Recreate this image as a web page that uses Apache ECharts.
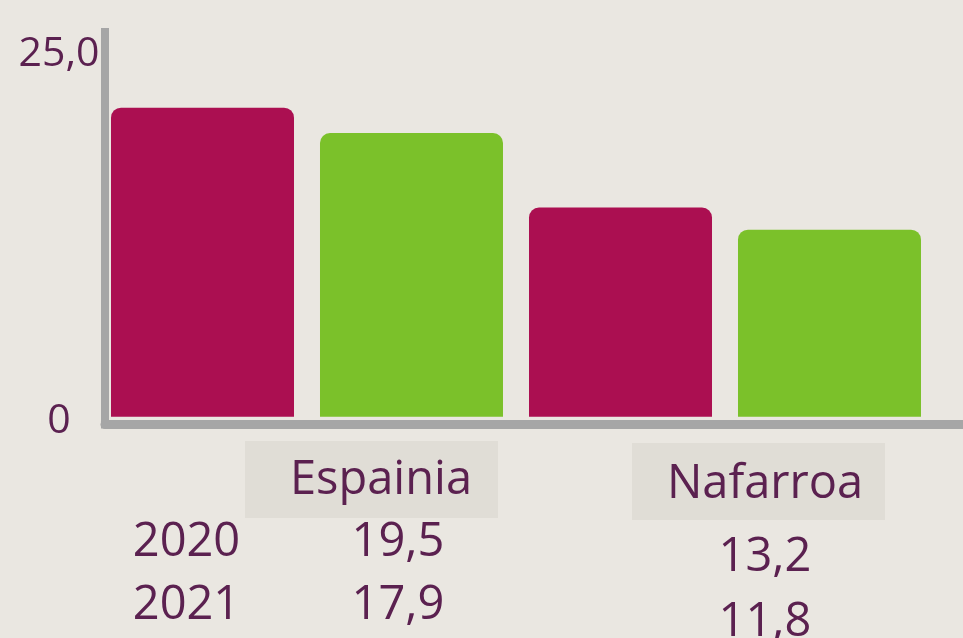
<!DOCTYPE html>
<html><head><meta charset="utf-8">
<script src="https://cdn.jsdelivr.net/npm/echarts@6/dist/echarts.min.js"></script>
<style>html,body{margin:0;padding:0;background:#eae7e1;}#c{width:963px;height:638px;}</style>
</head><body><div id="c"></div>
<script>
const categories = ['Espainia', 'Nafarroa'];
const years = ['2020', '2021'];
const values2020 = [19.5, 13.2];
const values2021 = [17.9, 11.8];
const yTicks = [0, 25];
const yTickLabels = ['0', '25,0'];

const TEXT = '#5b2150';
const FONT = '"Open Sans", "Noto Sans", sans-serif';
const chart = echarts.init(document.getElementById('c'), null, {renderer: 'canvas'});
const fmt = v => v.toFixed(1).replace('.', ',');
const seriesData = [values2020, values2021];
const colors = ['#ab0f51', '#7bc12a'];

chart.setOption({
  backgroundColor: '#eae7e1',
  animation: false,
  grid: [
    {left: 98, right: 29, top: 20.5, bottom: 221.3},
    {left: 105, right: 0, top: 32, bottom: 213.5}
  ],
  xAxis: [
    {type: 'category', gridIndex: 0, data: categories, axisLine: {show: false}, axisTick: {show: false}, axisLabel: {show: false}},
    {type: 'value', gridIndex: 1, min: 0, max: 1,
     axisLine: {show: true, onZero: false, lineStyle: {color: '#a6a6a6', width: 9}},
     axisTick: {show: false}, axisLabel: {show: false}, splitLine: {show: false}}
  ],
  yAxis: [
    {type: 'value', gridIndex: 0, min: 0, max: 25, show: false},
    {type: 'value', gridIndex: 1, min: -0.24, max: 26.5,
     axisLine: {show: true, onZero: false, lineStyle: {color: '#a6a6a6', width: 8, cap: 'square'}},
     axisTick: {show: false}, splitLine: {show: false},
     axisLabel: {customValues: yTicks, formatter: v => {const i = yTicks.indexOf(v); return i >= 0 ? yTickLabels[i] : '';},
       color: TEXT, fontSize: 41, fontFamily: FONT, align: 'center', margin: 46}}
  ],
  series: years.map((y, k) => ({
    type: 'bar', name: y, data: seriesData[k], xAxisIndex: 0, yAxisIndex: 0,
    barWidth: 183, barGap: '14.2%',
    itemStyle: {color: colors[k], borderRadius: [10, 10, 0, 0]}
  }))
});

// Table below the axis, positioned from the category axis
const cx = categories.map((c, i) => chart.convertToPixel({xAxisIndex: 0}, c));
const boxDx = [64.5, 33.5], boxTop = [441, 443], boxW = 253, boxH = 77;
const nameDx = [74, 40], nameY = [481, 484.5];
const valDx = [91, 40], valY = [[542.5, 606], [558, 622.5]];
const rowDx = -120.5, rowY = [542.5, 606];
const txt = (text, x, y, size) => ({type: 'text', z: 10, style: {text, x, y, fill: TEXT, font: size + 'px ' + FONT, textAlign: 'center', textVerticalAlign: 'middle'}});
const g = [];
categories.forEach((c, i) => {
  g.push({type: 'rect', z: 5, shape: {x: cx[i] + boxDx[i] - boxW / 2, y: boxTop[i], width: boxW, height: boxH}, style: {fill: '#e0ddd6'}});
  g.push(txt(c, cx[i] + nameDx[i], nameY[i], 47));
  seriesData.forEach((arr, k) => g.push(txt(fmt(arr[i]), cx[i] + valDx[i], valY[i][k], 47)));
});
years.forEach((y, k) => g.push(txt(y, cx[0] + rowDx, rowY[k], 47)));
chart.setOption({graphic: g});
</script></body></html>
